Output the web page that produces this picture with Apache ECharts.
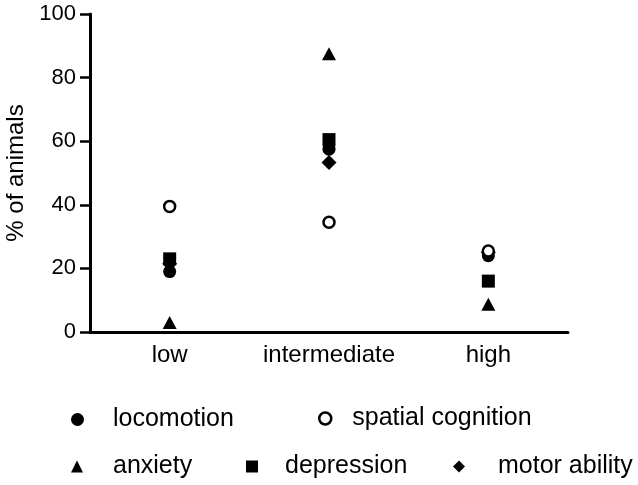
<!DOCTYPE html>
<html><head><meta charset="utf-8">
<script src="https://cdn.jsdelivr.net/npm/echarts@6/dist/echarts.min.js"></script>
<style>html,body{margin:0;padding:0;background:#fff}#c{width:638px;height:485px}</style>
</head><body><div id="c"></div>
<script>
const categories = ['low', 'intermediate', 'high'];
const locomotion = [19, 57.5, 24];
const spatialCognition = [39.5, 34.5, 25.5];
const anxiety = [3, 87.5, 8.7];
const depression = [23, 60.5, 16];
const motorAbility = [21.5, 53.3, 25];
const yTicks = [0, 20, 40, 60, 80, 100];

const font = 'Liberation Sans, Arial, sans-serif';
const chart = echarts.init(document.getElementById('c'));
const black = { color: '#000', opacity: 1 };
const hollow = { color: '#fff', borderColor: '#000', borderWidth: 2.5, opacity: 1 };
function s(name, data, symbol, size, style) {
  return { name, type: 'scatter', data, symbol, symbolSize: size, itemStyle: style || black };
}
const series = [
  s('depression', depression, 'rect', 13),
  s('motor ability', motorAbility, 'diamond', [15, 15]),
  s('locomotion', locomotion, 'circle', 13),
  s('anxiety', anxiety, 'triangle', [14, 13]),
  s('spatial cognition', spatialCognition, 'circle', 11, hollow)
];
function leg(name, icon, left, top, size, pad) {
  const st = name === 'spatial cognition' ? hollow : black;
  return {
    data: [{ name, icon, itemStyle: st }], left, top, itemWidth: size, itemHeight: size,
    itemGap: 0, selectedMode: false,
    textStyle: { fontFamily: font, fontSize: 25, color: '#000', padding: [0, 0, 0, pad] },
    itemStyle: st
  };
}
chart.setOption({
  animation: false,
  grid: { left: 90, right: 70, top: 14, bottom: 153, outerBoundsMode: 'none', containLabel: false },
  xAxis: {
    type: 'category', data: categories,
    axisLine: { lineStyle: { color: '#000', width: 3 } },
    axisTick: { alignWithLabel: true, length: 9, lineStyle: { color: '#000', width: 3 } },
    axisLabel: { fontFamily: font, fontSize: 24, color: '#000', margin: 11, interval: 0, hideOverlap: false },
    splitLine: { show: false }
  },
  yAxis: {
    type: 'value', min: 0, max: 100, interval: 20,
    name: '% of animals', nameLocation: 'middle', nameGap: 62,
    nameTextStyle: { fontFamily: font, fontSize: 24, color: '#000' },
    axisLine: { show: true, lineStyle: { color: '#000', width: 3 } },
    axisTick: { show: true, length: 10, lineStyle: { color: '#000', width: 2.5 } },
    axisLabel: { fontFamily: font, fontSize: 22, color: '#000', margin: 14,
      formatter: v => yTicks.includes(v) ? String(v) : '' },
    splitLine: { show: false }
  },
  legend: [
    leg('locomotion', 'circle', 66, 402, 13, 24),
    leg('spatial cognition', 'circle', 313, 401, 12, 16),
    leg('anxiety', 'triangle', 66, 449, 12, 25),
    leg('depression', 'rect', 241, 449, 12, 22),
    leg('motor ability', 'diamond', 448, 449, 12, 28)
  ],
  series
});
</script></body></html>
